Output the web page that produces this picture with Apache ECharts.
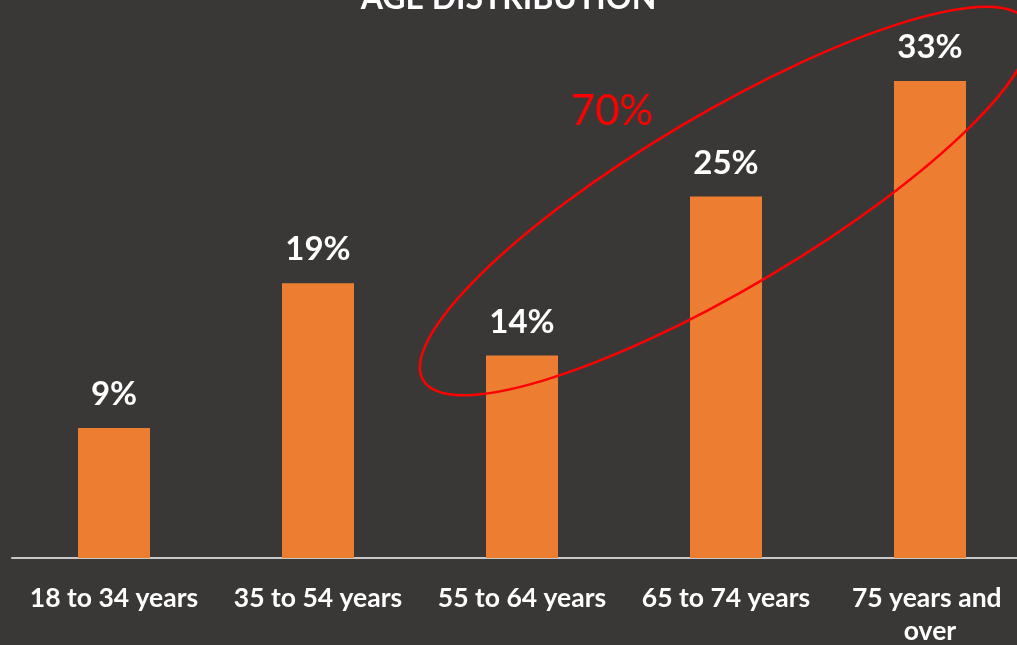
<!DOCTYPE html>
<html>
<head>
<meta charset="utf-8">
<title>Age Distribution</title>
<script src="https://cdn.jsdelivr.net/npm/echarts/dist/echarts.min.js"></script>
<style>
  html, body { margin: 0; padding: 0; background: #3a3836; }
  #chart { width: 1017px; height: 645px; }
</style>
</head>
<body>
<div id="chart"></div>
<script>
// Age groups and their share of the total (percent)
const categories = ['18 to 34 years', '35 to 54 years', '55 to 64 years', '65 to 74 years', '75 years and over'];
const shares = [9, 19, 14, 25, 33];
// Combined share of the three oldest groups, called out in red
const calloutText = '70%';

const FONT = 'Lato, "Open Sans", sans-serif';

const chart = echarts.init(document.getElementById('chart'), null, { renderer: 'canvas' });

chart.setOption({
  backgroundColor: '#3a3836',
  animation: false,
  title: {
    text: 'AGE DISTRIBUTION',
    left: 'center',
    top: -22,
    textStyle: { color: '#ffffff', fontFamily: FONT, fontWeight: 'bold', fontSize: 32 }
  },
  grid: {
    left: 12, width: 1020, top: 52, bottom: 87,
    containLabel: false,
    outerBoundsMode: 'none'
  },
  xAxis: {
    type: 'category',
    data: categories,
    axisLine: { show: true, lineStyle: { color: '#c8c8c8', width: 2 } },
    axisTick: { show: false },
    axisLabel: {
      color: '#ffffff',
      fontFamily: FONT,
      fontWeight: 'bold',
      fontSize: 26.5,
      lineHeight: 33,
      margin: 24,
      width: 185,
      overflow: 'break',
      interval: 0
    }
  },
  yAxis: {
    type: 'value',
    min: 0,
    max: 35,
    show: false,
    splitLine: { show: false }
  },
  series: [{
    type: 'bar',
    data: shares,
    barWidth: 72,
    itemStyle: { color: '#ed7d31' },
    label: {
      show: true,
      position: 'top',
      distance: 17,
      color: '#ffffff',
      fontFamily: FONT,
      fontWeight: 'bold',
      fontSize: 33,
      formatter: p => p.value + '%'
    }
  }],
  graphic: [
    {
      type: 'ellipse',
      x: 725,
      y: 201,
      rotation: 30.7 * Math.PI / 180,
      shape: { cx: 0, cy: 0, rx: 351, ry: 87 },
      style: { fill: 'none', stroke: '#ff0000', lineWidth: 2.5 },
      z: 100
    },
    {
      type: 'text',
      x: 612,
      y: 111,
      style: {
        text: calloutText,
        fill: '#ff0000',
        font: '42px ' + FONT,
        align: 'center',
        verticalAlign: 'middle'
      },
      z: 100
    }
  ]
});
</script>
</body>
</html>
